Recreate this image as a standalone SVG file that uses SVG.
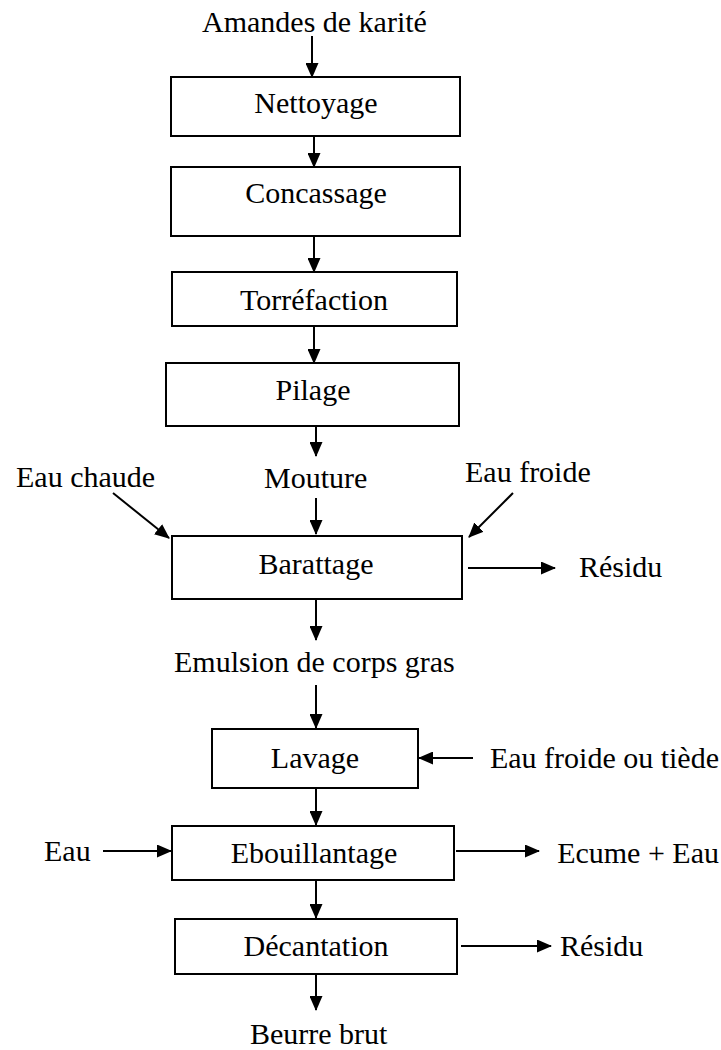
<svg xmlns="http://www.w3.org/2000/svg" width="721" height="1050" viewBox="0 0 721 1050">
<style>
.box{fill:#fff;stroke:#000;stroke-width:2}
.t{font-family:"Liberation Serif","Times New Roman",serif;font-size:30px;fill:#000}
.m{text-anchor:middle}
.e{text-anchor:end}
.c line{stroke:#000;stroke-width:2;marker-end:url(#ah)}
</style>
<defs>
<marker id="ah" markerUnits="userSpaceOnUse" markerWidth="15" markerHeight="13" refX="14" refY="6.5" orient="auto">
<path d="M0,0 L15,6.5 L0,13 Z" fill="#000"/>
</marker>
</defs>
<rect width="721" height="1050" fill="#fff"/>
<g id="n-amandes"><text class="t" x="202" y="32">Amandes de karité</text></g>
<g id="n-nettoyage"><rect class="box" x="171" y="77" width="289" height="59"/><text class="t m" x="316" y="113">Nettoyage</text></g>
<g id="n-concassage"><rect class="box" x="171" y="167" width="289" height="69"/><text class="t m" x="316" y="203">Concassage</text></g>
<g id="n-torrefaction"><rect class="box" x="172" y="272" width="285" height="54"/><text class="t m" x="314" y="310">Torréfaction</text></g>
<g id="n-pilage"><rect class="box" x="166" y="363" width="293" height="63"/><text class="t m" x="313" y="400">Pilage</text></g>
<g id="n-mouture"><text class="t" x="264" y="488">Mouture</text></g>
<g id="n-eauchaude"><text class="t" x="16" y="487">Eau chaude</text></g>
<g id="n-eaufroide"><text class="t" x="465" y="482">Eau froide</text></g>
<g id="n-barattage"><rect class="box" x="172" y="536" width="290" height="63"/><text class="t m" x="316" y="574">Barattage</text></g>
<g id="n-residu1"><text class="t" x="579" y="577">Résidu</text></g>
<g id="n-emulsion"><text class="t" x="174" y="672">Emulsion de corps gras</text></g>
<g id="n-lavage"><rect class="box" x="212" y="729" width="206" height="59"/><text class="t m" x="315" y="768">Lavage</text></g>
<g id="n-eaufroidetiede"><text class="t e" x="719" y="768">Eau froide ou tiède</text></g>
<g id="n-eau"><text class="t" x="44" y="861">Eau</text></g>
<g id="n-ebouillantage"><rect class="box" x="172" y="826" width="282" height="54"/><text class="t m" x="314" y="863">Ebouillantage</text></g>
<g id="n-ecume"><text class="t e" x="719" y="863">Ecume + Eau</text></g>
<g id="n-decantation"><rect class="box" x="175" y="919" width="282" height="55"/><text class="t m" x="316" y="956">Décantation</text></g>
<g id="n-residu2"><text class="t" x="560" y="956">Résidu</text></g>
<g id="n-beurre"><text class="t" x="250" y="1044">Beurre brut</text></g>
<g id="connectors" class="c">
<line x1="312" y1="36" x2="312" y2="77"/>
<line x1="314" y1="136" x2="314" y2="167"/>
<line x1="314" y1="237" x2="314" y2="272"/>
<line x1="314" y1="327" x2="314" y2="363"/>
<line x1="316" y1="427" x2="316" y2="456"/>
<line x1="316" y1="498" x2="316" y2="534"/>
<line x1="113" y1="493" x2="169" y2="538"/>
<line x1="513" y1="493" x2="469" y2="537"/>
<line x1="468" y1="568" x2="555" y2="568"/>
<line x1="316" y1="600" x2="316" y2="640"/>
<line x1="316" y1="685" x2="316" y2="728"/>
<line x1="473" y1="758" x2="419" y2="758"/>
<line x1="316" y1="789" x2="316" y2="825"/>
<line x1="103" y1="851" x2="171" y2="851"/>
<line x1="456" y1="851" x2="539" y2="851"/>
<line x1="316" y1="881" x2="316" y2="918"/>
<line x1="461" y1="946" x2="551" y2="946"/>
<line x1="316" y1="975" x2="316" y2="1010"/>
</g>
</svg>
